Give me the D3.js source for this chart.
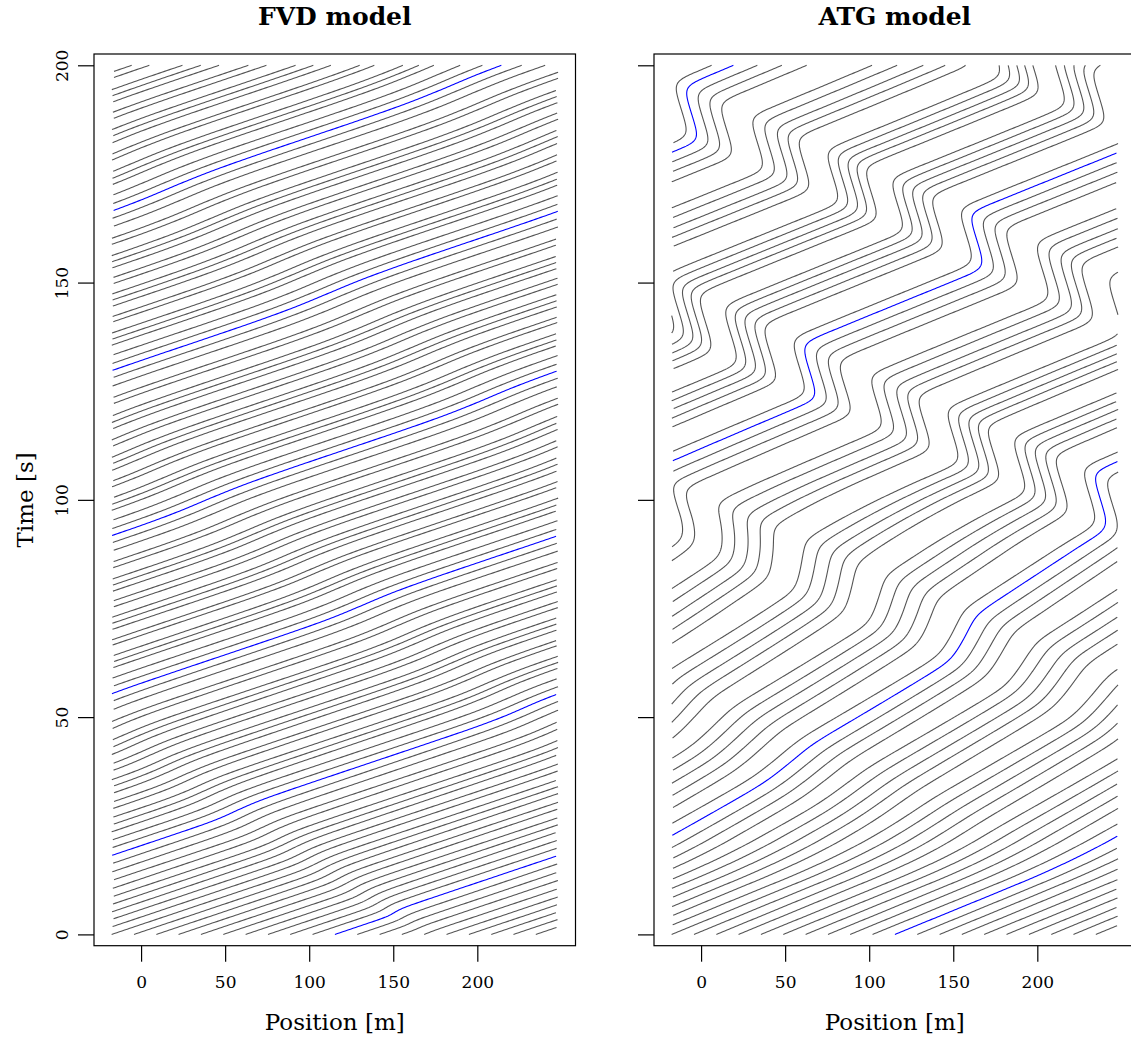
<!DOCTYPE html>
<html><head><meta charset="utf-8">
<script src="https://cdn.jsdelivr.net/npm/d3@7"></script>
<style>body{margin:0;background:#fff}svg{display:block}</style>
</head><body>
<svg id="chart" width="1131" height="1037"></svg>
<script>
// ---------------- data ----------------
const panelTitles = ["FVD model", "ATG model"];
const xTicks = [0, 50, 100, 150, 200];
const yTicks = [0, 50, 100, 150, 200];
const ringStart = -17.5;      // left end of the plotted ring road [m]
const ringLength = 265.6;     // ring circumference [m]
const timeEnd = 200;          // [s]
// vehicle positions at t = 0 [m]
const startPositions = [-17.5, -4.2, 9.1, 22.3, 35.6, 48.9, 62.2, 75.5, 88.7, 102.0,
                        115.3, 128.6, 141.9, 155.1, 168.4, 181.7, 195.0, 208.3, 221.5, 234.8];
const highlightedVehicle = 10;

// FVD: weak stop-and-go wave (centre position, speed drop, width, free speed) at knot times
const fvdKnotTimes   = [0, 5, 10, 20, 35, 50, 75, 100, 150, 200];
const fvdWaveCentre  = [170, 150, 130, 90, 30, -30, -130, -230, -430, -630];
const fvdWaveDepth   = [1.0, 3.4, 3.0, 2.4, 2.0, 1.8, 1.7, 1.6, 1.6, 1.6];
const fvdHalfWidth   = [0, 0, 0, 0, 0, 0, 0, 0, 0, 0];
const fvdEdge        = [8, 10, 14, 20, 28, 35, 40, 45, 50, 50];
const fvdFreeSpeed   = [7.7, 7.7, 7.7, 7.7, 7.7, 7.7, 7.7, 7.7, 7.7, 7.7];
// slight uneven spacing between cars that appears after the start
const fvdBunchTimes  = [0, 10, 60, 200];
const fvdBunchGrowth = [0, 0, 1, 1];
const fvdBunchOffset = [0.2, 0, -0.2, 0.15, -0.15, 0.25, 0.05, -0.2, 0.1, 0.15,
                        0, -0.15, -0.2, 0.15, -0.15, 0.2, 0, -0.2, 0.1, -0.1];

// ATG: growing jam moving upstream (centre unwrapped, read from where the blue car stalls)
const atgKnotTimes   = [0, 12, 22, 30, 38, 45, 60, 68, 75, 88, 97, 105, 120, 130, 140, 160, 180, 187, 200];
const atgWaveCentre  = [806, 738, 681, 635, 589, 549, 468, 423, 382, 307, 254, 208, 120, 61, 7, -102, -220, -261, -335];
const atgWaveDepth   = [0, 0.1, 0.3, 0.8, 1.2, 1.6, 2.4, 2.7, 3.0, 3.6, 5.6, 6.7, 6.9, 7.0, 7.1, 7.2, 7.2, 7.1, 6.9];
const atgHalfWidth   = [40, 40, 40, 40, 40, 40, 40, 40, 40, 39, 38, 37, 36, 36, 36, 36, 36, 36, 36];
const atgEdge        = [25, 25, 25, 22, 21, 20, 17, 16, 15, 14, 13, 12, 12, 12, 12, 12, 12, 12, 12];
const atgFreeSpeed   = [6.3, 6.3, 4.6, 4.5, 4.4, 4.4, 4.2, 4.1, 3.9, 3.9, 4.8, 5.9, 6.1, 6.2, 6.3, 6.4, 6.4, 6.3, 6.1];
// platoons of about five cars that form as the jam grows (shift in car index)
const atgBunchTimes  = [0, 20, 45, 70, 100, 130, 200];
const atgBunchGrowth = [0, 0.1, 0.35, 0.6, 0.9, 1, 1];
const atgBunchOffset = [0.25, 0, -0.3, -0.55, 0.5, 0.25, 0, -0.25, -0.5, 0.55,
                        0.25, 0, -0.25, -0.5, 0.45, 0.2, 0, -0.3, -0.55, 0.5];

// ---------------- layout ----------------
const panelLeft = [94, 654];
const panelWidth = 481.5;
const plotTop = 54, plotBottom = 945.7;
const xDomain = [-28, 258.4];
const yDomain = [-2.6, 202.6];
const font = "'DejaVu Serif', 'Liberation Serif', serif";
const lineGrey = "#555555";

const svg = d3.select("#chart");
const dt = 0.02, steps = Math.round(timeEnd / dt), every = 10;
const nRec = steps / every + 1, recDt = dt * every;
const labelStep = 0.1, nLabels = Math.round(startPositions.length / labelStep);
const startAt = d3.scaleLinear().domain(d3.range(startPositions.length)).range(startPositions);

function mod(v, m) { return ((v % m) + m) % m; }

// traffic field: trajectories of a dense set of car labels
function simulateField(times, centre, depth, half, edge, free) {
  const sc = arr => d3.scaleLinear().domain(times).range(arr).clamp(true);
  const J = sc(centre), D = sc(depth), A = sc(half), B = sc(edge), V = sc(free);
  const nHalf = 2 * steps + 2;
  const Jt = new Float64Array(nHalf), Dt = new Float64Array(nHalf), At = new Float64Array(nHalf),
        Bt = new Float64Array(nHalf), Vt = new Float64Array(nHalf), Nt = new Float64Array(nHalf);
  for (let h = 0; h < nHalf; h++) {
    const t = h * dt / 2;
    Jt[h] = J(t); Dt[h] = D(t); At[h] = A(t); Bt[h] = B(t); Vt[h] = V(t);
    const q = 1 + Math.tanh(At[h] / Bt[h]);
    Nt[h] = q * q;
  }
  function vel(x, h) {
    const d = mod(x - Jt[h] + ringLength / 2, ringLength) - ringLength / 2;
    const a = At[h], b = Bt[h];
    const bump = (1 + Math.tanh((d + a) / b)) * (1 - Math.tanh((d - a) / b));
    return Vt[h] - Dt[h] * bump / Nt[h];
  }
  const field = [];
  for (let j = 0; j < nLabels; j++) {
    let x = startAt(j * labelStep);
    const rec = new Float64Array(nRec);
    rec[0] = x;
    for (let i = 1; i <= steps; i++) {
      const h = 2 * (i - 1);
      const k1 = vel(x, h);
      const k2 = vel(x + 0.5 * dt * k1, h + 1);
      x += dt * k2;
      if (i % every === 0) rec[i / every] = x;
    }
    field.push(rec);
  }
  return field;
}

function vehiclePaths(field, bunchTimes, bunchGrowth, bunchOffset) {
  const G = d3.scaleLinear().domain(bunchTimes).range(bunchGrowth).clamp(true);
  const at = (j, i) => field[mod(j, nLabels)][i] + Math.floor(j / nLabels) * ringLength;
  return startPositions.map((_, k) => {
    const pts = [];
    for (let i = 0; i < nRec; i++) {
      const t = i * recDt;
      const u = (k + bunchOffset[k] * G(t)) / labelStep;
      const j = Math.floor(u), f = u - j;
      pts.push([(1 - f) * at(j, i) + f * at(j + 1, i), t]);
    }
    return pts;
  });
}

function splitWrapped(pts) {
  const segs = [];
  let cur = [], prev = null;
  for (const [x, t] of pts) {
    const w = ringStart + mod(x - ringStart, ringLength);
    if (prev !== null && Math.abs(w - prev) > ringLength / 2) {
      if (cur.length > 1) segs.push(cur);
      cur = [];
    }
    cur.push([w, t]);
    prev = w;
  }
  if (cur.length > 1) segs.push(cur);
  return segs;
}

const panels = [
  vehiclePaths(simulateField(fvdKnotTimes, fvdWaveCentre, fvdWaveDepth, fvdHalfWidth, fvdEdge, fvdFreeSpeed),
               fvdBunchTimes, fvdBunchGrowth, fvdBunchOffset),
  vehiclePaths(simulateField(atgKnotTimes, atgWaveCentre, atgWaveDepth, atgHalfWidth, atgEdge, atgFreeSpeed),
               atgBunchTimes, atgBunchGrowth, atgBunchOffset)
];

const y = d3.scaleLinear().domain(yDomain).range([plotBottom, plotTop]);

panels.forEach((traj, p) => {
  const x = d3.scaleLinear().domain(xDomain).range([panelLeft[p], panelLeft[p] + panelWidth]);
  const g = svg.append("g");
  const line = d3.line().x(d => x(d[0])).y(d => y(d[1]));

  const drawVehicle = (k, colour) => {
    splitWrapped(traj[k]).forEach(seg => {
      g.append("path").attr("d", line(seg)).attr("fill", "none")
        .attr("stroke", colour).attr("stroke-width", 1.1);
    });
  };
  traj.forEach((_, k) => { if (k !== highlightedVehicle) drawVehicle(k, lineGrey); });
  drawVehicle(highlightedVehicle, "#0000ff");

  // box
  g.append("rect").attr("x", panelLeft[p]).attr("y", plotTop)
    .attr("width", panelWidth).attr("height", plotBottom - plotTop)
    .attr("fill", "none").attr("stroke", "#000").attr("stroke-width", 1.2);

  // x axis
  const xa = g.append("g").attr("transform", `translate(0,${plotBottom})`)
    .call(d3.axisBottom(x).tickValues(xTicks).tickSize(16).tickFormat(d3.format("d")));
  xa.select(".domain").remove();
  xa.selectAll(".tick line").attr("stroke", "#000").attr("stroke-width", 1.2);
  xa.selectAll(".tick text").attr("y", 42).attr("dy", 0)
    .attr("font-family", font).attr("font-size", 17).attr("fill", "#000");

  // y axis
  const ya = g.append("g").attr("transform", `translate(${panelLeft[p]},0)`)
    .call(d3.axisLeft(y).tickValues(yTicks).tickSize(16)
      .tickFormat(p === 0 ? d3.format("d") : () => ""));
  ya.select(".domain").remove();
  ya.selectAll(".tick line").attr("stroke", "#000").attr("stroke-width", 1.2);
  ya.selectAll(".tick text").attr("x", 0).attr("y", 0).attr("dy", 0)
    .attr("text-anchor", "middle").attr("transform", "translate(-26,0) rotate(-90)")
    .attr("font-family", font).attr("font-size", 17).attr("fill", "#000");

  // titles and labels
  const cx = panelLeft[p] + panelWidth / 2;
  g.append("text").attr("x", cx).attr("y", 25).attr("text-anchor", "middle")
    .attr("font-family", font).attr("font-weight", "bold").attr("font-size", 25)
    .text(panelTitles[p]);
  g.append("text").attr("x", cx).attr("y", 1030).attr("text-anchor", "middle")
    .attr("font-family", font).attr("font-size", 23).text("Position [m]");
});

svg.append("text").attr("transform", `translate(33,${(plotTop + plotBottom) / 2}) rotate(-90)`)
  .attr("text-anchor", "middle").attr("font-family", font).attr("font-size", 23)
  .text("Time [s]");
</script>
</body></html>
